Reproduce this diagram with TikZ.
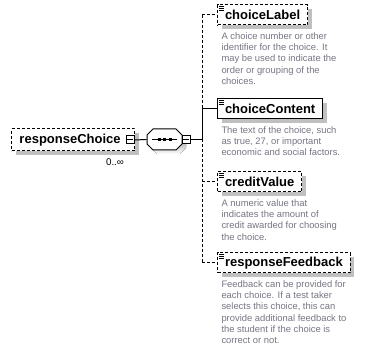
\documentclass[tikz,border=0pt]{standalone}
\usepackage{fontspec}
\setmainfont{Liberation Sans}
\usetikzlibrary{shadows,calc}
\definecolor{shade}{RGB}{192,192,192}
\definecolor{desccol}{RGB}{118,118,132}
\begin{document}
\begin{tikzpicture}[x=1pt,y=-1pt,line width=1pt,
  elem/.style={draw,fill=white,font=\fontsize{13}{15}\selectfont\bfseries,
    inner xsep=7.5pt,inner ysep=0pt,minimum height=20pt,anchor=west,
    drop shadow={shadow xshift=4pt,shadow yshift=-4pt,fill=shade,opacity=1}},
  opt/.style={dash pattern=on 3pt off 2pt},
  desc/.style={anchor=north west,inner sep=0pt,align=left,text=desccol,
    font=\fontsize{9.4}{11.3}\selectfont},
  minus/.style={draw,fill=white,minimum width=8pt,minimum height=8pt,inner sep=0pt},
  icon/.style={line width=0.8pt}]
\fill[white] (0,0) rectangle (365,352);
\useasboundingbox (0,0) rectangle (365,352);

% root element
\node[elem,opt,minimum height=22pt,inner xsep=8pt,text width=107pt] (rc) at (11,140) {responseChoice};
\node[minus] (rcm) at (130,140) {};
\draw ([xshift=1.5pt]rcm.west) -- ([xshift=-1.5pt]rcm.east);
\node[font=\fontsize{9.8}{11}\selectfont,inner sep=0pt] (occ) at (115,162.5) {0..∞};

% sequence compositor
\node[minimum width=35pt,minimum height=21pt,inner sep=0pt] (seq) at (164.5,139.5) {};
\begin{scope}[shift={(4,4)}]
\fill[shade] (153,129) -- (176,129) -- (182,135) -- (182,144) -- (176,150) -- (153,150) -- (147,144) -- (147,135) -- cycle;
\end{scope}
\draw[fill=white] (153,129) -- (176,129) -- (182,135) -- (182,144) -- (176,150) -- (153,150) -- (147,144) -- (147,135) -- cycle;
\draw (152,139.5) -- (177,139.5);
\foreach \dx in {159,164.5,170} \fill (\dx-1.5,138) rectangle (\dx+1.5,141);
\node[minus] (seqm) at (186,139.5) {};
\draw ([xshift=1.5pt]seqm.west) -- ([xshift=-1.5pt]seqm.east);
\draw (rcm.east) -- (seq.west);

% children
\node[elem,opt] (cl) at (217,15) {choiceLabel};
\node[elem] (cc) at (217,109) {choiceContent};
\node[elem,opt] (cv) at (217,182) {creditValue};
\node[elem,opt] (rf) at (217,263) {responseFeedback};

\foreach \n in {cl,cc,cv,rf}{
  \fill[white] ([xshift=0.5pt,yshift=-0.5pt]\n.north west) rectangle +(7,7);
  \draw[icon] ([xshift=1.5pt,yshift=-2pt]\n.north west) -- +(5,0);
  \draw[icon] ([xshift=1.5pt,yshift=-4pt]\n.north west) -- +(5,0);
  \draw[icon] ([xshift=1.5pt,yshift=-6pt]\n.north west) -- +(5,0);
}

% bus
\coordinate (bus) at (202,139.5);
\coordinate (jl) at (bus |- cl.west);
\coordinate (jc) at (bus |- cc.west);
\coordinate (jv) at (bus |- cv.west);
\coordinate (jr) at (bus |- rf.west);
\draw (seqm.east) -- (bus);
\draw[opt] (jl) -- (jc);
\draw (jc) -- (bus);
\draw[opt] (bus) -- (jr);
\draw[opt] (jl) -- (cl.west);
\draw (jc) -- (cc.west);
\draw[opt] (jv) -- (cv.west);
\draw[opt] (jr) -- (rf.west);

% annotations
\node[desc] (dl) at (221,32) {A choice number or other\\identifier for the choice. It\\may be used to indicate the\\order or grouping of the\\choices.};
\node[desc] (dc) at (221,126) {The text of the choice, such\\as true, 27, or important\\economic and social factors.};
\node[desc] (dv) at (221,199) {A numeric value that\\indicates the amount of\\credit awarded for choosing\\the choice.};
\node[desc] (dr) at (221,280) {Feedback can be provided for\\each choice. If a test taker\\selects this choice, this can\\provide additional feedback to\\the student if the choice is\\correct or not.};
\end{tikzpicture}
\end{document}
